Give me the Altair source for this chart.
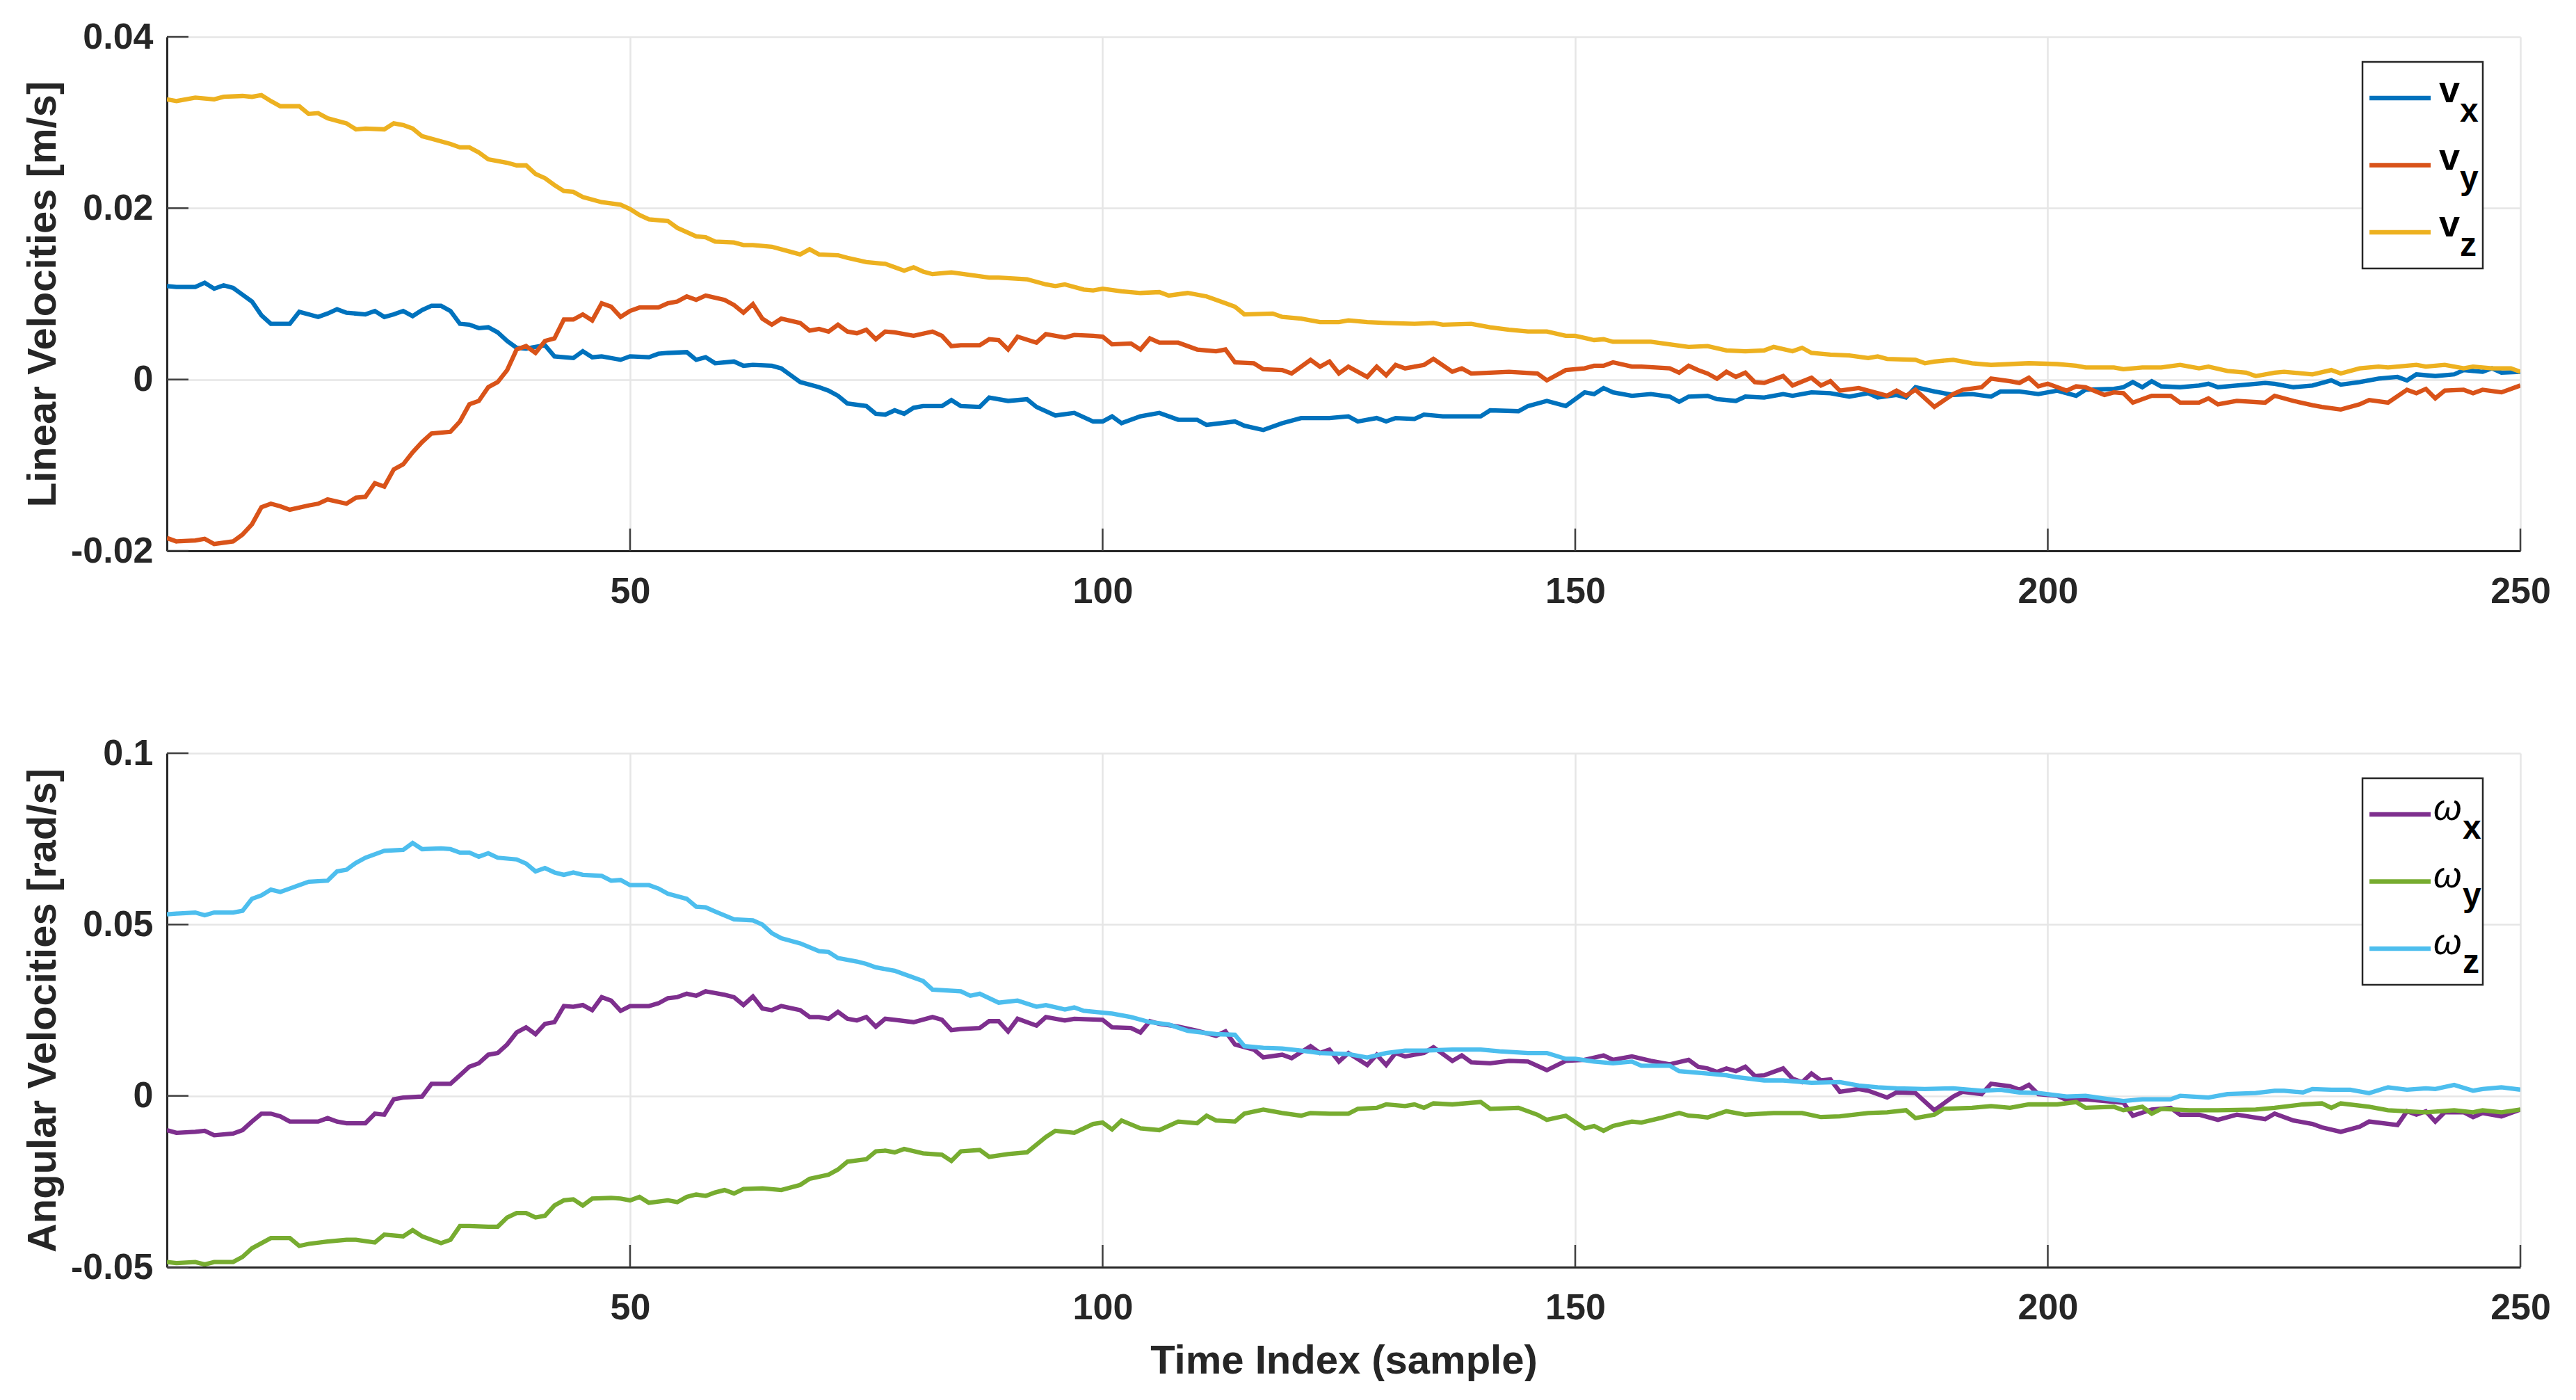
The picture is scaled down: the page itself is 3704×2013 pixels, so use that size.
import altair as alt
import pandas as pd

# values are stored in units of 1e-3 (m/s or rad/s)
SCALE = 1e-3

VX = [(1,10.9),(2,10.8),(4,10.8),(5,11.3),(6,10.6),(7,11.0),(8,10.7),(9,9.9),(10,9.1),(11,7.5),(12,6.5),(14,6.5),(15,7.9),(16,7.6),(17,7.3),(18,7.7),(19,8.2),(20,7.8),(22,7.6),(23,8.0),(24,7.3),(25,7.6),(26,8.0),(27,7.4),(28,8.1),(29,8.6),(30,8.6),(31,8.0),(32,6.5),(33,6.4),(34,6.0),(35,6.1),(36,5.5),(37,4.5),(38,3.7),(39,3.6),(41,4.0),(42,2.7),(44,2.5),(45,3.3),(46,2.6),(47,2.7),(49,2.3),(50,2.7),(52,2.6),(53,3.0),(54,3.1),(56,3.2),(57,2.3),(58,2.6),(59,1.9),(61,2.1),(62,1.6),(63,1.7),(65,1.6),(66,1.3),(67,0.5),(68,-0.3),(70,-0.9),(71,-1.3),(72,-1.9),(73,-2.8),(75,-3.1),(76,-4.0),(77,-4.1),(78,-3.6),(79,-4.0),(80,-3.3),(81,-3.1),(83,-3.1),(84,-2.4),(85,-3.1),(87,-3.2),(88,-2.1),(90,-2.5),(92,-2.3),(93,-3.2),(95,-4.2),(97,-3.9),(99,-4.9),(100,-4.9),(101,-4.3),(102,-5.1),(104,-4.3),(106,-3.9),(108,-4.7),(110,-4.7),(111,-5.3),(114,-4.9),(115,-5.4),(117,-5.9),(119,-5.1),(121,-4.5),(124,-4.5),(126,-4.3),(127,-4.9),(129,-4.5),(130,-4.9),(131,-4.5),(133,-4.6),(134,-4.1),(136,-4.3),(140,-4.3),(141,-3.6),(144,-3.7),(145,-3.1),(147,-2.5),(149,-3.1),(151,-1.5),(152,-1.7),(153,-1.0),(154,-1.5),(156,-1.9),(158,-1.7),(160,-2.0),(161,-2.6),(162,-2.0),(164,-1.9),(165,-2.3),(167,-2.5),(168,-2.0),(170,-2.1),(172,-1.7),(173,-1.9),(175,-1.5),(177,-1.6),(179,-2.0),(181,-1.6),(182,-2.1),(184,-1.8),(185,-2.1),(186,-0.9),(188,-1.4),(190,-1.8),(192,-1.7),(194,-2.0),(195,-1.4),(197,-1.4),(199,-1.7),(201,-1.3),(203,-1.9),(204,-1.2),(207,-1.1),(208,-0.9),(209,-0.3),(210,-0.9),(211,-0.2),(212,-0.8),(214,-0.9),(216,-0.7),(217,-0.5),(218,-0.9),(221,-0.6),(223,-0.4),(224,-0.5),(226,-0.9),(228,-0.7),(230,-0.1),(231,-0.6),(233,-0.3),(235,0.1),(237,0.3),(238,-0.1),(239,0.6),(241,0.4),(243,0.6),(244,1.1),(246,0.9),(247,1.3),(248,0.8),(250,0.9)]

VY = [(1,-18.5),(2,-18.9),(4,-18.8),(5,-18.6),(6,-19.2),(8,-18.9),(9,-18.1),(10,-16.9),(11,-14.9),(12,-14.5),(13,-14.8),(14,-15.2),(16,-14.7),(17,-14.5),(18,-14.0),(20,-14.5),(21,-13.8),(22,-13.7),(23,-12.1),(24,-12.5),(25,-10.5),(26,-9.9),(27,-8.5),(28,-7.3),(29,-6.3),(31,-6.1),(32,-4.9),(33,-2.9),(34,-2.5),(35,-0.9),(36,-0.3),(37,1.1),(38,3.5),(39,3.9),(40,3.1),(41,4.5),(42,4.8),(43,7.0),(44,7.0),(45,7.6),(46,6.9),(47,8.9),(48,8.5),(49,7.3),(50,8.0),(51,8.4),(53,8.4),(54,8.9),(55,9.1),(56,9.7),(57,9.3),(58,9.8),(60,9.3),(61,8.7),(62,7.8),(63,8.8),(64,7.1),(65,6.4),(66,7.1),(68,6.6),(69,5.7),(70,5.9),(71,5.6),(72,6.4),(73,5.6),(74,5.4),(75,5.8),(76,4.7),(77,5.6),(78,5.5),(80,5.1),(82,5.6),(83,5.1),(84,3.9),(85,4.0),(87,4.0),(88,4.7),(89,4.6),(90,3.5),(91,5.0),(93,4.3),(94,5.3),(96,4.9),(97,5.2),(99,5.1),(100,5.0),(101,4.1),(103,4.2),(104,3.5),(105,4.8),(106,4.3),(108,4.3),(110,3.5),(112,3.3),(113,3.5),(114,2.0),(116,1.9),(117,1.2),(119,1.1),(120,0.7),(122,2.3),(123,1.5),(124,2.1),(125,0.7),(126,1.5),(128,0.3),(129,1.5),(130,0.5),(131,1.7),(132,1.3),(134,1.7),(135,2.4),(137,0.9),(138,1.3),(139,0.7),(141,0.8),(143,0.9),(146,0.7),(147,-0.1),(149,1.1),(151,1.3),(152,1.6),(153,1.6),(154,2.0),(156,1.5),(157,1.5),(160,1.3),(161,0.8),(162,1.6),(163,1.1),(164,0.7),(165,0.1),(166,0.9),(167,0.3),(168,0.8),(169,-0.3),(170,-0.4),(172,0.4),(173,-0.7),(175,0.2),(176,-0.7),(177,-0.2),(178,-1.3),(180,-1.0),(182,-1.6),(183,-1.9),(184,-1.3),(185,-1.9),(186,-1.2),(188,-3.2),(190,-1.7),(191,-1.2),(193,-0.9),(194,0.1),(196,-0.2),(197,-0.4),(198,0.2),(199,-0.8),(200,-0.5),(202,-1.3),(203,-0.8),(204,-0.9),(206,-1.8),(207,-1.5),(208,-1.6),(209,-2.7),(211,-1.9),(213,-1.9),(214,-2.7),(216,-2.7),(217,-2.2),(218,-2.9),(220,-2.5),(223,-2.7),(224,-1.9),(226,-2.5),(228,-3.0),(229,-3.2),(231,-3.5),(233,-2.9),(234,-2.4),(236,-2.7),(238,-1.2),(239,-1.6),(240,-1.1),(241,-2.2),(242,-1.3),(244,-1.2),(245,-1.6),(246,-1.2),(248,-1.5),(250,-0.7)]

VZ = [(1,32.7),(2,32.5),(4,32.9),(6,32.7),(7,33.0),(9,33.1),(10,33.0),(11,33.2),(12,32.5),(13,31.9),(15,31.9),(16,31.0),(17,31.1),(18,30.5),(20,29.9),(21,29.2),(22,29.3),(24,29.2),(25,29.9),(26,29.7),(27,29.3),(28,28.4),(29,28.1),(31,27.5),(32,27.1),(33,27.1),(34,26.5),(35,25.7),(37,25.3),(38,25.0),(39,25.0),(40,24.0),(41,23.5),(42,22.7),(43,22.0),(44,21.9),(45,21.3),(47,20.7),(49,20.4),(50,19.9),(51,19.2),(52,18.7),(54,18.5),(55,17.7),(57,16.7),(58,16.6),(59,16.1),(61,16.0),(62,15.7),(63,15.7),(65,15.5),(67,14.9),(68,14.6),(69,15.2),(70,14.6),(72,14.5),(73,14.2),(75,13.7),(77,13.5),(78,13.1),(79,12.7),(80,13.1),(81,12.6),(82,12.3),(84,12.5),(86,12.2),(88,11.9),(89,11.9),(92,11.7),(94,11.1),(95,10.9),(96,11.1),(98,10.5),(99,10.4),(100,10.6),(102,10.3),(104,10.1),(106,10.2),(107,9.8),(109,10.1),(111,9.7),(113,8.9),(114,8.5),(115,7.6),(118,7.7),(119,7.3),(121,7.1),(123,6.7),(125,6.7),(126,6.9),(128,6.7),(130,6.6),(133,6.5),(135,6.6),(136,6.4),(139,6.5),(141,6.1),(143,5.8),(145,5.6),(147,5.6),(149,5.1),(150,5.1),(152,4.6),(153,4.7),(154,4.4),(158,4.4),(160,4.1),(162,3.8),(164,3.9),(166,3.4),(168,3.3),(170,3.4),(171,3.8),(173,3.3),(174,3.7),(175,3.1),(177,2.9),(179,2.8),(181,2.5),(182,2.7),(183,2.4),(186,2.3),(187,1.9),(188,2.1),(190,2.3),(192,1.9),(194,1.7),(196,1.8),(198,1.9),(201,1.8),(203,1.6),(204,1.4),(207,1.4),(208,1.2),(210,1.4),(212,1.4),(214,1.7),(216,1.3),(217,1.5),(219,1.0),(221,0.8),(222,0.4),(224,0.8),(225,0.9),(228,0.6),(230,1.1),(231,0.7),(233,1.3),(235,1.5),(236,1.4),(239,1.7),(240,1.5),(242,1.7),(244,1.3),(245,1.5),(247,1.3),(249,1.3),(250,0.9)]

WX = [(1,-10.0),(2,-10.8),(4,-10.5),(5,-10.2),(6,-11.5),(8,-11.0),(9,-10.0),(10,-7.5),(11,-5.2),(12,-5.2),(13,-6.0),(14,-7.5),(16,-7.5),(17,-7.5),(18,-6.5),(19,-7.5),(20,-8.0),(22,-8.0),(23,-5.2),(24,-5.5),(25,-1.0),(26,-0.5),(28,-0.2),(29,3.5),(31,3.5),(32,6.0),(33,8.5),(34,9.5),(35,12.0),(36,12.5),(37,15.0),(38,18.5),(39,20.0),(40,18.0),(41,21.0),(42,21.5),(43,26.2),(44,26.0),(45,26.5),(46,25.0),(47,28.8),(48,27.8),(49,24.8),(50,26.2),(52,26.2),(53,27.0),(54,28.5),(55,28.8),(56,29.8),(57,29.2),(58,30.5),(60,29.5),(61,28.8),(62,26.5),(63,29.0),(64,25.5),(65,25.0),(66,26.2),(68,25.0),(69,23.0),(70,23.0),(71,22.5),(72,24.5),(73,22.5),(74,22.0),(75,23.0),(76,20.2),(77,22.5),(78,22.2),(80,21.5),(82,23.0),(83,22.2),(84,19.2),(85,19.5),(87,19.8),(88,21.8),(89,21.8),(90,18.8),(91,22.5),(93,20.5),(94,23.0),(96,22.0),(97,22.5),(100,22.2),(101,20.0),(103,19.8),(104,18.5),(105,21.8),(106,21.0),(108,20.2),(110,19.0),(112,17.5),(113,18.8),(114,15.0),(116,13.5),(117,11.2),(119,12.0),(120,11.0),(122,14.5),(123,12.5),(124,13.5),(125,10.0),(126,12.5),(128,9.0),(129,12.0),(130,9.0),(131,12.5),(132,11.5),(134,12.5),(135,14.2),(137,10.2),(138,11.8),(139,9.8),(141,9.5),(143,10.2),(145,10.0),(147,7.5),(149,10.2),(151,10.5),(153,11.8),(154,10.5),(156,11.5),(158,10.2),(160,9.2),(162,10.5),(163,8.5),(164,8.0),(165,7.0),(166,8.0),(167,7.2),(168,8.5),(169,5.8),(170,6.0),(172,8.0),(173,5.0),(174,4.0),(175,6.5),(176,4.5),(177,4.8),(178,1.2),(180,2.0),(181,1.5),(183,-0.5),(184,1.0),(186,0.8),(188,-4.2),(190,-0.2),(191,1.2),(193,0.5),(194,3.5),(196,2.8),(197,1.8),(198,3.2),(199,0.5),(201,0.0),(202,-1.2),(204,-1.0),(206,-1.5),(208,-2.0),(209,-5.8),(211,-4.0),(213,-3.5),(214,-5.5),(216,-5.5),(218,-7.0),(220,-5.5),(223,-6.8),(224,-5.2),(226,-7.2),(228,-8.2),(229,-9.2),(231,-10.5),(233,-9.0),(234,-7.5),(237,-8.5),(238,-4.5),(239,-5.5),(240,-4.5),(241,-7.5),(242,-4.8),(244,-4.8),(245,-6.2),(246,-5.0),(248,-6.0),(250,-4.0)]

WY = [(1,-48.5),(2,-48.8),(4,-48.5),(5,-49.2),(6,-48.5),(8,-48.5),(9,-47.0),(10,-44.5),(12,-41.5),(14,-41.5),(15,-43.8),(16,-43.2),(18,-42.5),(20,-42.0),(21,-42.0),(23,-42.8),(24,-40.5),(26,-41.0),(27,-39.2),(28,-41.0),(29,-42.0),(30,-43.0),(31,-42.0),(32,-38.0),(33,-38.0),(35,-38.2),(36,-38.2),(37,-35.5),(38,-34.2),(39,-34.2),(40,-35.5),(41,-35.0),(42,-32.0),(43,-30.5),(44,-30.2),(45,-32.0),(46,-30.0),(48,-29.8),(49,-30.0),(50,-30.5),(51,-29.5),(52,-31.2),(54,-30.5),(55,-31.0),(56,-29.5),(57,-28.8),(58,-29.2),(59,-28.2),(60,-27.5),(61,-28.5),(62,-27.2),(64,-27.0),(66,-27.5),(68,-26.0),(69,-24.2),(71,-23.0),(72,-21.5),(73,-19.2),(75,-18.5),(76,-16.2),(77,-16.0),(78,-16.5),(79,-15.5),(81,-16.8),(83,-17.2),(84,-19.0),(85,-16.2),(87,-15.8),(88,-17.8),(90,-17.0),(92,-16.5),(94,-12.0),(95,-10.2),(97,-10.8),(99,-8.2),(100,-7.8),(101,-9.8),(102,-7.2),(104,-9.5),(106,-10.0),(108,-7.5),(110,-8.0),(111,-5.8),(112,-7.2),(114,-7.5),(115,-5.2),(117,-4.0),(119,-5.0),(121,-5.8),(122,-5.0),(124,-5.2),(126,-5.2),(127,-3.8),(129,-3.5),(130,-2.5),(132,-3.0),(133,-2.5),(134,-3.5),(135,-2.2),(137,-2.5),(140,-1.8),(141,-3.8),(144,-3.5),(146,-5.5),(147,-7.0),(149,-5.8),(151,-9.5),(152,-8.8),(153,-10.2),(154,-8.8),(156,-7.5),(157,-7.8),(159,-6.5),(161,-5.0),(162,-5.8),(163,-6.0),(164,-6.3),(166,-4.5),(168,-5.5),(171,-5.0),(174,-5.0),(176,-6.2),(178,-6.0),(181,-5.0),(183,-4.8),(185,-4.2),(186,-6.5),(188,-5.5),(189,-3.8),(192,-3.5),(194,-3.0),(196,-3.5),(198,-2.5),(201,-2.5),(203,-1.8),(204,-3.5),(207,-3.2),(208,-4.2),(210,-3.2),(211,-5.2),(212,-3.8),(215,-4.2),(218,-4.2),(222,-4.0),(224,-3.5),(227,-2.5),(229,-2.2),(230,-3.5),(231,-2.2),(234,-3.2),(236,-4.2),(238,-4.5),(240,-4.8),(243,-4.2),(245,-4.8),(246,-4.2),(248,-4.8),(250,-4.0)]

WZ = [(1,53.0),(2,53.2),(4,53.5),(5,52.7),(6,53.5),(8,53.5),(9,54.0),(10,57.5),(11,58.5),(12,60.2),(13,59.5),(14,60.5),(16,62.5),(18,62.8),(19,65.5),(20,66.0),(21,68.0),(22,69.5),(24,71.5),(26,71.8),(27,73.8),(28,72.0),(30,72.2),(31,72.0),(32,71.0),(33,71.0),(34,69.8),(35,70.8),(36,69.5),(38,69.0),(39,67.8),(40,65.5),(41,66.5),(42,65.2),(43,64.5),(44,65.2),(45,64.5),(47,64.2),(48,62.8),(49,63.0),(50,61.5),(52,61.5),(53,60.5),(54,59.0),(56,57.5),(57,55.2),(58,55.0),(59,53.8),(61,51.5),(63,51.2),(64,50.0),(65,47.5),(66,46.0),(68,44.5),(70,42.2),(71,42.0),(72,40.2),(74,39.2),(75,38.5),(76,37.5),(78,36.5),(79,35.5),(81,33.5),(82,31.0),(85,30.5),(86,29.2),(87,29.8),(89,27.2),(91,27.8),(93,26.0),(94,26.5),(96,25.2),(97,25.8),(98,24.8),(101,24.0),(103,23.0),(105,21.5),(107,20.8),(109,19.0),(112,18.0),(114,17.8),(115,14.5),(117,14.0),(119,13.8),(121,13.2),(123,12.5),(126,12.2),(128,11.2),(130,12.5),(132,13.2),(134,13.2),(137,13.5),(140,13.5),(142,13.0),(145,12.5),(147,12.5),(149,10.8),(150,10.8),(152,10.0),(154,9.5),(156,10.0),(157,8.8),(160,8.8),(161,7.2),(164,6.5),(166,6.0),(167,5.5),(170,4.5),(172,4.5),(175,3.8),(178,4.0),(180,3.0),(182,2.5),(184,2.2),(187,2.0),(190,2.2),(193,1.5),(195,1.8),(197,1.0),(199,0.8),(202,-0.2),(204,0.0),(206,-0.8),(208,-1.5),(210,-1.0),(213,-1.0),(214,0.0),(217,-0.5),(219,0.5),(222,0.8),(224,1.5),(225,1.5),(227,1.0),(228,2.0),(230,1.8),(232,1.8),(234,0.8),(236,2.5),(238,1.8),(240,2.2),(241,2.0),(243,3.2),(245,1.5),(246,2.0),(248,2.5),(250,1.8)]

LIN_NAMES = ["vx", "vy", "vz"]
ANG_NAMES = ["wx", "wy", "wz"]
LIN_COLORS = ["#0072BD", "#D95319", "#EDB120"]
ANG_COLORS = ["#7E2F8E", "#77AC30", "#4DBEEE"]
SUBS = ["x", "y", "z"]

X_TICKS = [50, 100, 150, 200, 250]
LIN_TICKS = [-0.02, 0, 0.02, 0.04]
ANG_TICKS = [-0.05, 0, 0.05, 0.1]

W, H = 3384, 739
FONT = "Liberation Sans"
DARK = "#262626"
LW = 6.3


def frame(names, data):
    rows = []
    for name, pts in zip(names, data):
        for t, v in pts:
            rows.append({"t": t, "v": v * SCALE, "series": name})
    return pd.DataFrame(rows)


def panel(names, colors, data, ydomain, yticks, ytitle, xtitle, base, base_style, base_weight,
          base_size, sub_size, base_x, sub_x, base_dy, sub_dy):
    df = frame(names, data)
    cscale = alt.Scale(domain=names, range=colors)
    xax = alt.Axis(values=X_TICKS, title=xtitle, labelPadding=33, titlePadding=22,
                   format="d")
    yax = alt.Axis(values=yticks, title=ytitle, labelPadding=20, titlePadding=10,
                   labelExpr="'' + datum.value")
    xsc = alt.Scale(domain=[1, 250], nice=False, zero=False)
    ysc = alt.Scale(domain=ydomain, nice=False, zero=False)
    lines = alt.Chart(df).mark_line(strokeWidth=LW, clip=True).encode(
        x=alt.X("t:Q", scale=xsc, axis=xax),
        y=alt.Y("v:Q", scale=ysc, axis=yax),
        color=alt.Color("series:N", scale=cscale, legend=None),
    )
    ytk = alt.Chart(pd.DataFrame({"v": yticks})).mark_rule(color="#404040", strokeWidth=2.5).encode(
        y=alt.Y("v:Q", scale=ysc, axis=yax), x=alt.value(0), x2=alt.value(31))
    xtk = alt.Chart(pd.DataFrame({"t": X_TICKS})).mark_rule(color="#404040", strokeWidth=2.5).encode(
        x=alt.X("t:Q", scale=xsc, axis=xax), y=alt.value(H), y2=alt.value(H - 32))
    inner = alt.layer(lines, ytk, xtk)

    ld = pd.DataFrame({"series": names, "base": [base] * 3, "sub": SUBS})
    ly = alt.Y("series:N", scale=alt.Scale(type="point", domain=names, range=[88, 281], padding=0),
               axis=None)
    box = alt.Chart(pd.DataFrame({"k": [0]})).mark_rect(
        fill="white", stroke=DARK, strokeWidth=2.5).encode(
        x=alt.value(3157), x2=alt.value(3330), y=alt.value(36), y2=alt.value(333))
    seg = alt.Chart(ld).mark_rule(strokeWidth=LW).encode(
        x=alt.value(3167), x2=alt.value(3255), y=ly,
        color=alt.Color("series:N", scale=cscale, legend=None))
    letter = alt.Chart(ld).mark_text(
        align="left", baseline="middle", font=FONT, fontSize=base_size, fontStyle=base_style,
        fontWeight=base_weight, color="black", dy=base_dy).encode(
        x=alt.value(base_x), y=ly, text="base:N")
    sub = alt.Chart(ld).mark_text(
        align="left", baseline="middle", font=FONT, fontSize=sub_size, fontWeight="bold",
        color="black", dy=sub_dy).encode(
        x=alt.value(sub_x), y=ly, text="sub:N")
    return alt.layer(inner, box, seg, letter, sub).resolve_scale(y="independent").properties(
        width=W, height=H)


top = panel(LIN_NAMES, LIN_COLORS, [VX, VY, VZ], [-0.02, 0.04], LIN_TICKS,
            "Linear Velocities [m/s]", None, "v", "normal", "bold", 54, 48, 3267, 3297, -10, 20)
bottom = panel(ANG_NAMES, ANG_COLORS, [WX, WY, WZ], [-0.05, 0.1], ANG_TICKS,
               "Angular Velocities [rad/s]", "Time Index (sample)", "ω", "italic", "normal",
               52, 48, 3259, 3301, -8, 21)

chart = alt.vconcat(top, bottom, spacing=291, bounds="flush").resolve_scale(
    x="independent", y="independent", color="independent"
).properties(
    padding={"left": 25, "top": 19, "right": 10, "bottom": 0}
).configure_view(stroke=None).configure_axis(
    labelFont=FONT, labelFontSize=52, labelFontWeight="bold", labelColor=DARK,
    titleFont=FONT, titleFontSize=58, titleFontWeight="bold", titleColor=DARK,
    domainColor=DARK, domainWidth=3, gridColor="#e6e6e6", gridWidth=2.5,
    ticks=False, labelFlush=False, labelOverlap=False
)

chart.save("out.html", embed_options={"renderer": "svg", "actions": False})
